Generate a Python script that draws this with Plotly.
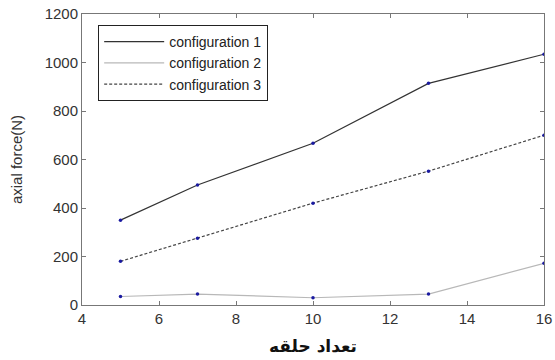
import plotly.graph_objects as go

x = [5, 7, 10, 13, 16]
config1 = [350, 495, 667, 914, 1034]
config2 = [35, 45, 30, 45, 172]
config3 = [180, 275, 420, 552, 700]
names = ["configuration 1", "configuration 2", "configuration 3"]

fig = go.Figure()
styles = [("#333333", "solid", 1.2), ("#b8b8b8", "solid", 1.2), ("#444444", "3px,2px", 1.2)]
for ys, nm, (c, d, w) in zip([config1, config2, config3], names, styles):
    fig.add_trace(go.Scatter(x=x, y=ys, name=nm, mode="lines",
                             line=dict(color=c, dash=d, width=w)))
for ys in [config1, config2, config3]:
    fig.add_trace(go.Scatter(x=x, y=ys, mode="markers", showlegend=False,
                             marker=dict(color="#1a1aa0", size=3.5, symbol="circle")))

axis_common = dict(showgrid=False, zeroline=False, showline=True, linecolor="#777777",
                   linewidth=1, mirror="ticks", ticks="inside", ticklen=4, automargin=False,
                   tickcolor="#777777", tickfont=dict(size=15, color="#333333"))
fig.update_layout(
    width=555, height=360,
    margin=dict(l=82, r=11, t=14, b=55),
    paper_bgcolor="white", plot_bgcolor="white",
    font=dict(family="Liberation Sans, Arial, sans-serif", color="#333333"),
    xaxis=dict(range=[4, 16], tickvals=[4, 6, 8, 10, 12, 14, 16], **axis_common,
               title=dict(text="<b>تعداد حلقه</b>", font=dict(size=17, family="DejaVu Sans", color="#111111"), standoff=14)),
    yaxis=dict(range=[0, 1200], tickvals=[0, 200, 400, 600, 800, 1000, 1200], **axis_common,
               title=dict(text="axial force(N)", font=dict(size=15), standoff=18)),
    legend=dict(x=0.035, y=0.962, xanchor="left", yanchor="top", bordercolor="#222222",
                borderwidth=1, bgcolor="white", font=dict(size=14, color="#222222"),
                tracegroupgap=0, itemwidth=60),
)
fig.write_html("out.html", config={"displayModeBar": False})
with open("out.html", encoding="utf-8") as f:
    html = f.read()
html = html.replace("<body>", '<body style="margin:0">', 1)
with open("out.html", "w", encoding="utf-8") as f:
    f.write(html)
